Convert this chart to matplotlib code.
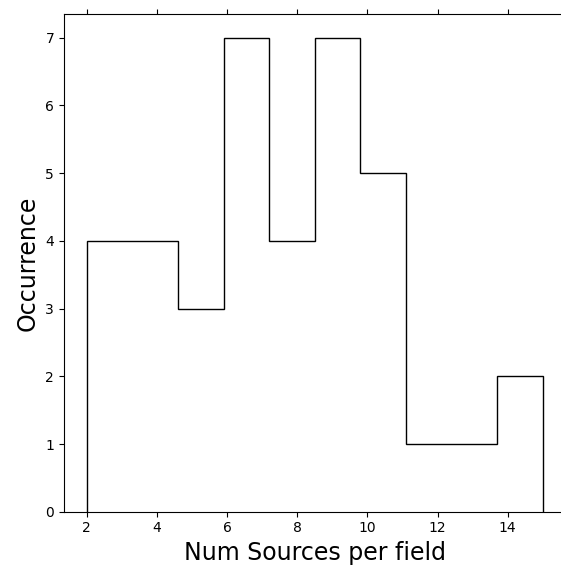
import matplotlib
matplotlib.use("Agg")
import matplotlib.pyplot as plt
import numpy as np

bin_edges = [2.0, 3.3, 4.6, 5.9, 7.2, 8.5, 9.8, 11.1, 12.4, 13.7, 15.0]
counts = [4, 4, 3, 7, 4, 7, 5, 1, 1, 2]
x_ticks = [2, 4, 6, 8, 10, 12, 14]
y_ticks = [0, 1, 2, 3, 4, 5, 6, 7]

fig = plt.figure(figsize=(5.61, 5.66), dpi=100)
ax = fig.add_axes([0.1139, 0.0959, 0.8943, 0.8793])

edges = np.array(bin_edges)
centers = (edges[:-1] + edges[1:]) / 2
ax.hist(centers, bins=edges, weights=counts, histtype='step', color='black', linewidth=1.0)

ax.set_xlim(1.35, 15.65)
ax.set_ylim(0, 7.35)
ax.set_xticks(x_ticks)
ax.set_yticks(y_ticks)
ax.tick_params(axis='x', top=True, labeltop=False, labelsize=10)
ax.tick_params(axis='y', labelsize=10)
ax.spines['right'].set_visible(False)
ax.set_xlabel('Num Sources per field', fontsize=17)
ax.set_ylabel('Occurrence', fontsize=17)

fig.savefig('out.png', dpi=100)
